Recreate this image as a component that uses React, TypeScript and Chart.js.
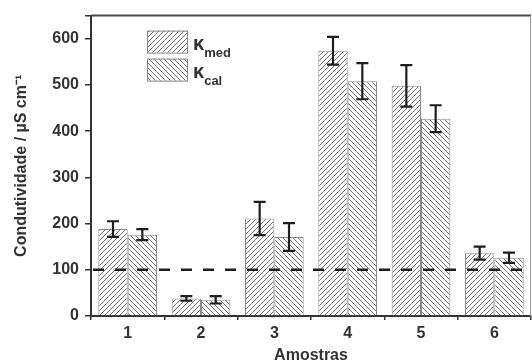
import React, { useEffect, useRef } from "react";
import { Chart, registerables } from "chart.js";

Chart.register(...registerables);

const categories = ["1", "2", "3", "4", "5", "6"];
const kMed = [188, 38, 211, 574, 498, 136];
const kMedErr = [17, 5, 36, 30, 45, 14];
const kCal = [176, 35, 171, 508, 427, 126];
const kCalErr = [12, 8, 30, 39, 29, 11];
const refValue = 100;
const yMin = 0;
const yMax = 650;
const yStep = 100;
const legendSubs = ["med", "cal"];
const xTitle = "Amostras";
const yTitle = "Condutividade / µS cm⁻¹";

const FONT = "'Liberation Sans', Arial, Helvetica, sans-serif";

function makeHatch(dir: "/" | "\\"): CanvasPattern | string {
  const s = 5;
  const c = document.createElement("canvas");
  c.width = s;
  c.height = s;
  const g = c.getContext("2d");
  if (!g) return "#fff";
  g.fillStyle = "#ffffff";
  g.fillRect(0, 0, s, s);
  g.strokeStyle = "#707070";
  g.lineWidth = 1;
  g.beginPath();
  if (dir === "/") {
    g.moveTo(0, s); g.lineTo(s, 0);
    g.moveTo(-1, 1); g.lineTo(1, -1);
    g.moveTo(s - 1, s + 1); g.lineTo(s + 1, s - 1);
  } else {
    g.moveTo(0, 0); g.lineTo(s, s);
    g.moveTo(-1, s - 1); g.lineTo(1, s + 1);
    g.moveTo(s - 1, -1); g.lineTo(s + 1, 1);
  }
  g.stroke();
  const p = g.createPattern(c, "repeat");
  return p || "#fff";
}

export default function App() {
  const ref = useRef<HTMLCanvasElement | null>(null);

  useEffect(() => {
    const canvas = ref.current;
    if (!canvas) return;
    const hatchMed = makeHatch("/");
    const hatchCal = makeHatch("\\");
    const errs = [kMedErr, kCalErr];

    const overlay = {
      id: "overlay",
      afterDatasetsDraw(chart: any) {
        const { ctx, chartArea, scales } = chart;
        const ys = scales.y;
        ctx.save();
        const yRef = ys.getPixelForValue(refValue);
        ctx.strokeStyle = "#1e1e1e";
        ctx.lineWidth = 2.5;
        ctx.setLineDash([11, 11]);
        ctx.beginPath();
        ctx.moveTo(chartArea.left + 2, yRef);
        ctx.lineTo(chartArea.right, yRef);
        ctx.stroke();
        ctx.setLineDash([]);
        ctx.strokeStyle = "#1e1e1e";
        ctx.lineWidth = 2.2;
        chart.data.datasets.forEach((ds: any, di: number) => {
          const meta = chart.getDatasetMeta(di);
          meta.data.forEach((el: any, i: number) => {
            const v = ds.data[i];
            const e = errs[di][i];
            const x = el.x;
            const yt = ys.getPixelForValue(v + e);
            const yb = ys.getPixelForValue(v - e);
            const cap = 6;
            ctx.beginPath();
            ctx.moveTo(x, yt); ctx.lineTo(x, yb);
            ctx.moveTo(x - cap, yt); ctx.lineTo(x + cap, yt);
            ctx.moveTo(x - cap, yb); ctx.lineTo(x + cap, yb);
            ctx.stroke();
          });
        });
        ctx.restore();
      },
      afterDraw(chart: any) {
        const { ctx, chartArea } = chart;
        ctx.save();
        ctx.strokeStyle = "#4a4a4a";
        ctx.lineWidth = 2;
        ctx.beginPath();
        ctx.moveTo(chartArea.left, chartArea.top);
        ctx.lineTo(chartArea.right, chartArea.top);
        ctx.stroke();
        ctx.strokeStyle = "#9a9a9a";
        ctx.lineWidth = 1;
        ctx.beginPath();
        ctx.moveTo(chartArea.right - 0.5, chartArea.top);
        ctx.lineTo(chartArea.right - 0.5, chartArea.bottom);
        ctx.stroke();
        const pats = [hatchMed, hatchCal];
        const bx = chartArea.left + 56;
        const by0 = chartArea.top + 15;
        for (let k = 0; k < 2; k++) {
          const by = by0 + k * 28;
          ctx.fillStyle = pats[k] as any;
          ctx.fillRect(bx, by, 40, 22);
          ctx.strokeStyle = "#888";
          ctx.lineWidth = 1;
          ctx.strokeRect(bx + 0.5, by + 0.5, 40, 22);
          ctx.fillStyle = "#333";
          ctx.textBaseline = "alphabetic";
          ctx.textAlign = "left";
          ctx.font = `bold 20px ${FONT}`;
          ctx.fillText("κ", bx + 46, by + 19);
          const kw = ctx.measureText("κ").width;
          ctx.font = `bold 13px ${FONT}`;
          ctx.fillText(legendSubs[k], bx + 46 + kw, by + 26);
        }
        ctx.restore();
      },
    };

    const chart = new Chart(canvas, {
      type: "bar",
      data: {
        labels: categories,
        datasets: [
          {
            label: "κmed",
            data: kMed,
            backgroundColor: hatchMed as any,
            borderColor: "#8a8a8a",
            borderWidth: 1,
            categoryPercentage: 0.8,
            barPercentage: 1.0,
          },
          {
            label: "κcal",
            data: kCal,
            backgroundColor: hatchCal as any,
            borderColor: "#8a8a8a",
            borderWidth: 1,
            categoryPercentage: 0.8,
            barPercentage: 1.0,
          },
        ],
      },
      options: {
        responsive: false,
        animation: false,
        devicePixelRatio: 1,
        layout: { padding: { left: 0, right: 1, top: 11, bottom: 0 } },
        plugins: {
          legend: { display: false },
          tooltip: { enabled: false },
        },
        scales: {
          x: {
            offset: true,
            grid: {
              offset: true,
              drawOnChartArea: false,
              drawTicks: true,
              tickLength: 4,
              color: "#333",
              lineWidth: 1.5,
            },
            border: { display: true, color: "#333", width: 2 },
            ticks: {
              color: "#333",
              padding: 4,
              font: { family: FONT, size: 16, weight: "bold" },
            },
            title: {
              display: true,
              text: xTitle,
              color: "#333",
              padding: { top: 0, bottom: 0 },
              font: { family: FONT, size: 16, weight: "bold", lineHeight: 0.8 },
            },
            afterFit(scale: any) {
              scale.height = 46;
            },
          },
          y: {
            min: yMin,
            max: yMax,
            grid: {
              drawOnChartArea: false,
              drawTicks: true,
              tickLength: 6,
              color: "#333",
              lineWidth: 1.5,
            },
            border: { display: true, color: "#333", width: 2 },
            ticks: {
              stepSize: yStep,
              color: "#333",
              padding: 6,
              font: { family: FONT, size: 16, weight: "bold" },
              callback: (v: any) => (Number(v) % yStep === 0 && Number(v) <= 600 ? String(v) : ""),
            },
            title: {
              display: true,
              text: yTitle,
              color: "#333",
              padding: { top: 12, bottom: 0 },
              font: { family: FONT, size: 16, weight: "bold" },
            },
            afterFit(scale: any) {
              scale.width = 91;
            },
          },
        },
      },
      plugins: [overlay],
    } as any);

    return () => chart.destroy();
  }, []);

  return (
    <div style={{ position: "fixed", left: 0, top: 0, width: 532, height: 362, background: "#fff" }}>
      <canvas ref={ref} width={532} height={362} style={{ display: "block" }} />
    </div>
  );
}
